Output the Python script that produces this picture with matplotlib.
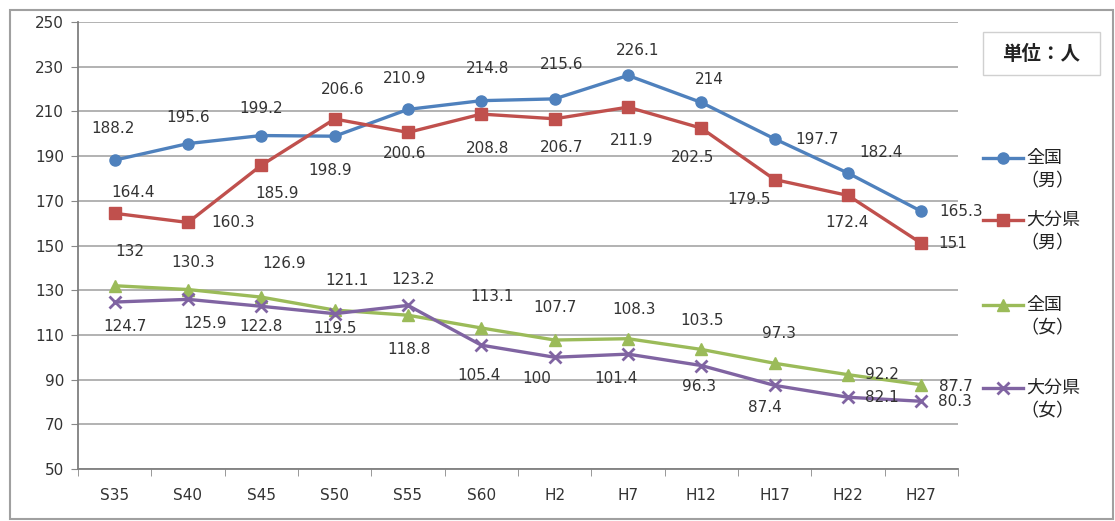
#!/usr/bin/env python3
"""Line chart: per-category trend, 全国 vs 大分県, 男/女."""

import matplotlib
matplotlib.use('Agg')
import matplotlib.pyplot as plt
from matplotlib.lines import Line2D
from matplotlib.patches import Rectangle

plt.rcParams['font.family'] = ['DejaVu Sans', 'Noto Sans CJK JP']

# --- data -------------------------------------------------------------
categories = ['S35', 'S40', 'S45', 'S50', 'S55', 'S60',
              'H2', 'H7', 'H12', 'H17', 'H22', 'H27']

zenkoku_m = [188.2, 195.6, 199.2, 198.9, 210.9, 214.8, 215.6, 226.1, 214, 197.7, 182.4, 165.3]
oita_m = [164.4, 160.3, 185.9, 206.6, 200.6, 208.8, 206.7, 211.9, 202.5, 179.5, 172.4, 151]
zenkoku_f = [132, 130.3, 126.9, 121.1, 118.8, 113.1, 107.7, 108.3, 103.5, 97.3, 92.2, 87.7]
oita_f = [124.7, 125.9, 122.8, 119.5, 123.2, 105.4, 100, 101.4, 96.3, 87.4, 82.1, 80.3]

legend_lines = [('全国', '（男）'), ('大分県', '（男）'), ('全国', '（女）'), ('大分県', '（女）')]
yticks = list(range(50, 251, 20))

# --- label offsets (pixels, relative to each point) -------------------
off_zm = [(-2, 32), (0, 26), (0, 27), (-5, -34), (-3, 31), (6, 32),
          (7, 34), (10, 25), (8, 23), (42, -1), (33, 21), (40, 0)]
off_om = [(18, 21), (45, 0), (16, -28), (8, 29), (-3, -21), (6, -34),
          (7, -29), (4, -33), (-9, -29), (-26, -20), (-1, -27), (31, 0)]
off_zf = [(15, 34), (5, 27), (23, 34), (12, 30), (1, -34), (11, 31),
          (0, 33), (6, 29), (1, 29), (4, 30), (34, 0), (35, -2)]
off_of = [(10, -24), (17, -24), (0, -20), (0, -15), (5, 26), (-2, -30),
          (-18, -21), (-12, -24), (-2, -21), (-10, -22), (34, 0), (34, 0)]

series = [
    (zenkoku_m, '#4F81BD', 'o', 8, off_zm),
    (oita_m, '#C0504D', 's', 8, off_om),
    (zenkoku_f, '#9BBB59', '^', 8, off_zf),
    (oita_f, '#8064A2', 'x', 8, off_of),
]

W, H = 1115, 521
fig = plt.figure(figsize=(W / 100, H / 100), dpi=100)
ax = fig.add_axes([78 / W, 1 - 469 / H, (958 - 78) / W, (469 - 22) / H])

x = list(range(len(categories)))
for vals, color, marker, ms, offs in series:
    ax.plot(x, vals, color=color, lw=2.4, marker=marker, ms=ms,
            markeredgewidth=2 if marker == 'x' else 1, zorder=3)
    for i, v in enumerate(vals):
        dx, dy = offs[i]
        ax.annotate(f'{v:g}', (i, v), xytext=(dx, dy), textcoords='offset pixels',
                    ha='center', va='center', fontsize=11, color='#333333', zorder=4)

ax.set_xlim(-0.5, len(categories) - 0.5)
ax.set_ylim(50, 250)
ax.set_yticks(yticks)
ax.set_xticks(x)
ax.set_xticklabels(categories)
ax.set_xticks([i + 0.5 for i in range(-1, len(categories))], minor=True)
ax.tick_params(axis='x', which='major', length=0, pad=14, labelsize=11, labelcolor='#333333')
ax.tick_params(axis='x', which='minor', length=5, color='#888888', direction='out')
ax.tick_params(axis='y', length=5, color='#888888', pad=5, labelsize=11, labelcolor='#333333')
ax.grid(axis='y', color='#a6a6a6', lw=1.2)
ax.set_axisbelow(True)
for side in ['top', 'right']:
    ax.spines[side].set_visible(False)
for side in ['left', 'bottom']:
    ax.spines[side].set_color('#7f7f7f')
    ax.spines[side].set_linewidth(1.3)

# --- manual legend ----------------------------------------------------
leg_y = [158, 220, 305, 388]
for (vals, color, marker, ms, _), (l1, l2), yp in zip(series, legend_lines, leg_y):
    yf = 1 - yp / H
    fig.add_artist(Line2D([983 / W, 1023 / W], [yf, yf], color=color, lw=2.4))
    fig.add_artist(Line2D([1003 / W], [yf], color=color, marker=marker, ms=ms,
                          markeredgewidth=2 if marker == 'x' else 1))
    fig.text(1026 / W, yf, l1, ha='left', va='center', fontsize=13, color='#222222')
    fig.text(1020 / W, 1 - (yp + 23) / H, l2, ha='left', va='center', fontsize=13, color='#222222')

# unit box
fig.add_artist(Rectangle((983 / W, 1 - 75 / H), 117 / W, 43 / H, transform=fig.transFigure,
                         facecolor='white', edgecolor='#d0d0d0', lw=1))
fig.text(1041 / W, 1 - 54 / H, '単位：人', ha='center', va='center', fontsize=14,
         fontweight='bold', color='#222222')

# outer border
fig.add_artist(Rectangle((10 / W, 2 / H), 1103 / W, (H - 12) / H, transform=fig.transFigure,
                         facecolor='none', edgecolor='#a0a0a0', lw=1.5))

fig.savefig('out.png', dpi=100)
